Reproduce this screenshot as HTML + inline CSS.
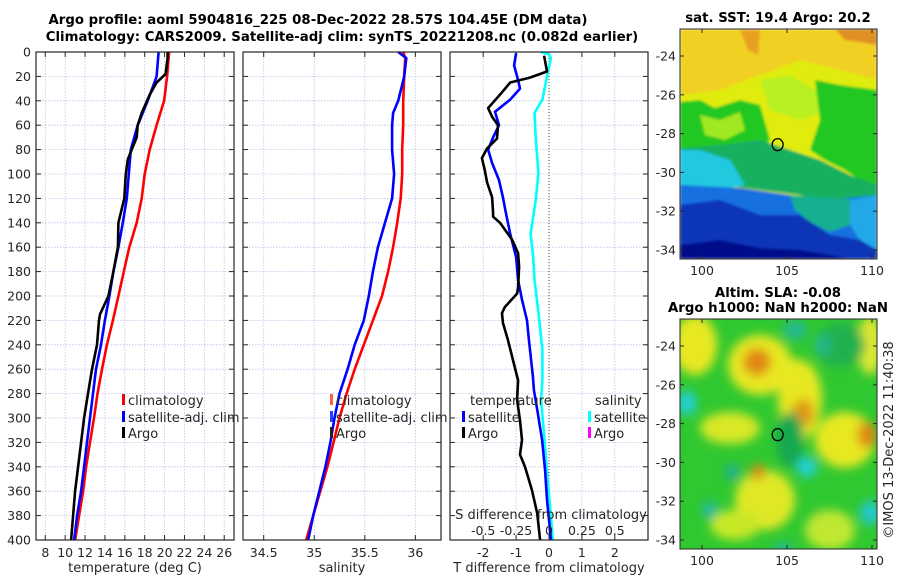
<!DOCTYPE html>
<html><head><meta charset="utf-8">
<style>
html,body{margin:0;padding:0;background:#fff;}
svg{display:block;font-family:"DejaVu Sans","Liberation Sans",sans-serif;}
.tk{font-size:12.5px;fill:#262626;}
.ttl{font-size:13.3px;font-weight:bold;fill:#000;}
.lab{font-size:13px;fill:#262626;}
</style></head>
<body>
<svg id="fig" width="900" height="580" viewBox="0 0 900 580">
<defs>
<filter id="bl" x="-20%" y="-20%" width="140%" height="140%"><feGaussianBlur stdDeviation="5"/></filter>
<filter id="bl2" x="-20%" y="-20%" width="140%" height="140%"><feGaussianBlur stdDeviation="1.2"/></filter>
<clipPath id="c1"><rect x="680" y="29" width="197" height="230"/></clipPath>
<clipPath id="c2"><rect x="680" y="319" width="197" height="230"/></clipPath>
</defs>
<text class="ttl" x="318" y="24" text-anchor="middle">Argo profile: aoml 5904816_225 08-Dec-2022 28.57S 104.45E (DM data)</text>
<text class="ttl" x="342" y="41" text-anchor="middle">Climatology: CARS2009. Satellite-adj clim: synTS_20221208.nc (0.082d earlier)</text>

<g id="panel1"></g>
<g id="panel2"></g>
<g id="panel3"></g>

<g>
<text class="ttl" x="778" y="22" text-anchor="middle">sat. SST: 19.4 Argo: 20.2</text>
<g clip-path="url(#c1)" filter="url(#bl2)">
<rect x="680" y="29" width="197" height="230" fill="#e0ec10"/>
<polygon fill="#f0d020" points="680,29 877,29 877,80 840,70 800,60 760,75 720,90 680,95"/>
<polygon fill="#e8a020" points="740,30 760,30 758,55 748,50"/>
<polygon fill="#e09020" points="835,29 877,29 877,45 860,42 845,40"/>
<polygon fill="#b8f020" points="760,80 790,75 815,90 830,110 800,120 770,110"/>
<polygon fill="#20c820" points="680,102 700,100 715,108 740,100 760,105 770,140 760,150 720,150 680,150"/>
<polygon fill="#20c820" points="815,80 840,85 877,90 877,185 860,180 845,170 825,160 810,150 820,120"/>
<polygon fill="#a0e820" points="700,115 720,120 740,112 745,130 725,140 705,135"/>
<polygon fill="#18b060" points="680,148 720,145 760,140 790,150 820,160 850,175 877,185 877,200 840,205 800,195 760,190 720,185 680,185"/>
<polygon fill="#20c8e0" points="680,150 700,150 730,160 745,185 720,190 680,190"/>
<polygon fill="#1870e0" points="680,185 740,188 790,195 830,200 877,195 877,259 680,259"/>
<polygon fill="#18b090" points="790,195 830,198 860,200 850,225 830,232 810,222 795,210"/>
<polygon fill="#20a8e8" points="850,200 877,195 877,250 860,240 850,225"/>
<polygon fill="#0a34b8" points="680,205 720,200 760,215 800,215 830,235 860,240 877,250 877,259 680,259"/>
<polygon fill="#000a8a" points="680,245 720,240 760,248 800,250 830,255 850,259 680,259"/>
</g>
<rect x="680" y="29" width="197" height="230" fill="none" stroke="#262626" stroke-width="1"/>
<g id="m1ax"></g>
</g>

<g>
<text class="ttl" x="778" y="297" text-anchor="middle">Altim. SLA: -0.08</text>
<text class="ttl" x="778" y="312" text-anchor="middle">Argo h1000: NaN h2000: NaN</text>
<g clip-path="url(#c2)">
<rect x="680" y="319" width="197" height="230" fill="#30c830"/>
<g filter="url(#bl)">
<ellipse cx="695" cy="345" rx="22" ry="30" fill="#e8e820"/>
<ellipse cx="760" cy="365" rx="32" ry="30" fill="#e8e820"/>
<ellipse cx="800" cy="400" rx="22" ry="40" fill="#e8e820"/>
<ellipse cx="790" cy="370" rx="15" ry="12" fill="#e8e820"/>
<ellipse cx="845" cy="440" rx="30" ry="28" fill="#e8e820"/>
<ellipse cx="870" cy="345" rx="12" ry="30" fill="#e0e830"/>
<ellipse cx="730" cy="428" rx="30" ry="16" fill="#d8e828"/>
<ellipse cx="765" cy="500" rx="30" ry="30" fill="#e0e828"/>
<ellipse cx="735" cy="525" rx="25" ry="15" fill="#c8e828"/>
<ellipse cx="830" cy="530" rx="25" ry="20" fill="#c0e830"/>
<ellipse cx="757" cy="362" rx="14" ry="14" fill="#e08818"/>
<ellipse cx="803" cy="413" rx="11" ry="14" fill="#e09818"/>
<ellipse cx="867" cy="435" rx="10" ry="13" fill="#e08818"/>
<ellipse cx="758" cy="472" rx="7" ry="8" fill="#e08818"/>
<ellipse cx="790" cy="440" rx="14" ry="28" fill="#18a850"/>
<ellipse cx="840" cy="345" rx="25" ry="22" fill="#20b050"/>
<ellipse cx="687" cy="403" rx="9" ry="12" fill="#20d0e0"/>
<ellipse cx="807" cy="467" rx="10" ry="10" fill="#20d0d8"/>
<ellipse cx="710" cy="510" rx="8" ry="9" fill="#20b8a0"/>
<ellipse cx="870" cy="513" rx="10" ry="12" fill="#20c8d0"/>
<ellipse cx="795" cy="330" rx="12" ry="10" fill="#20b890"/>
<ellipse cx="822" cy="345" rx="8" ry="10" fill="#20b890"/>
<ellipse cx="732" cy="472" rx="8" ry="8" fill="#20b090"/>
<ellipse cx="783" cy="549" rx="10" ry="6" fill="#20b8a0"/>
</g>
</g>
<rect x="680" y="319" width="197" height="230" fill="none" stroke="#262626" stroke-width="1"/>
<g id="m2ax"></g>
</g>
<text class="lab" transform="translate(893,440) rotate(-90)" text-anchor="middle">©IMOS 13-Dec-2022 11:40:38</text>
</svg>
<script>
const depthT = [0,20,40,60,80,100,120,140,160,180,200,220,240,260,280,300,320,340,360,380,400];
const climT  = [20.45,20.25,19.95,19.2,18.5,18.0,17.7,17.2,16.45,15.9,15.35,14.8,14.2,13.7,13.25,12.9,12.5,12.1,11.8,11.4,11.0];
const satT   = [19.4,19.2,18.3,17.3,16.6,16.4,16.2,15.8,15.35,14.85,14.45,14.0,13.6,13.1,12.8,12.5,12.2,11.9,11.6,11.2,10.9];
const argoDepthT = [0,5,18,25,35,50,60,70,88,100,120,140,160,180,200,215,220,240,260,280,300,320,340,360,380,400];
const argoT  = [20.3,20.3,20.1,19.2,18.5,17.7,17.3,17.2,16.3,16.1,15.95,15.35,15.3,14.85,14.35,13.5,13.4,13.2,12.7,12.3,11.9,11.6,11.3,11.0,10.8,10.6];
const depthS = [0,5,20,40,50,60,80,100,120,140,160,180,200,220,240,260,280,300,320,340,360,380,400];
const climS  = [35.88,35.9,35.89,35.88,35.88,35.88,35.87,35.87,35.855,35.82,35.78,35.73,35.67,35.58,35.49,35.40,35.32,35.25,35.19,35.13,35.06,34.99,34.92];
const satS   = [35.83,35.91,35.89,35.83,35.78,35.77,35.77,35.79,35.77,35.70,35.63,35.58,35.54,35.49,35.40,35.33,35.25,35.20,35.16,35.11,35.05,34.99,34.94];
const argoDiffDepth = [3,16,21,25,33,46,53,60,71,79,87,97,107,119,132,135,140,154,165,176,193,198,209,214,222,236,250,266,269,285,302,318,330,340,359,378,400];
const argoDiffT = [-0.15,-0.06,-0.58,-1.18,-1.43,-1.85,-1.73,-1.55,-1.58,-1.88,-2.04,-1.95,-1.88,-1.73,-1.70,-1.70,-1.49,-1.12,-0.94,-0.91,-0.94,-0.97,-1.34,-1.43,-1.40,-1.25,-1.12,-0.97,-0.94,-0.97,-0.88,-0.82,-0.88,-0.73,-0.52,-0.36,-0.27];
const satDiffDepth = [1,11,23,30,39,49,60,70,80,91,105,119,132,149,168,187,203,220,236,266,277,293,318,343,367,400];
const satDiffT = [-1.0,-1.06,-0.94,-0.88,-1.18,-1.64,-1.52,-1.70,-1.85,-1.73,-1.52,-1.40,-1.31,-1.18,-1.0,-0.94,-0.82,-0.67,-0.61,-0.49,-0.46,-0.36,-0.21,-0.12,-0.06,0.06];
const salDiffDepth = [0,2,5,20,39,50,72,99,121,149,168,187,214,244,269,285,310,351,400];
const satDiffS = [-0.06,0.0,0.015,-0.015,-0.05,-0.11,-0.10,-0.08,-0.10,-0.14,-0.12,-0.11,-0.08,-0.05,-0.05,-0.06,-0.04,-0.01,0.03];
const depthTicks = [0,20,40,60,80,100,120,140,160,180,200,220,240,260,280,300,320,340,360,380,400];
const tTicks = [8,10,12,14,16,18,20,22,24,26];
const sTicks = [34.5,35,35.5,36];
const dtTicks = [-2,-1,0,1,2];
const dsTicks = [-0.5,-0.25,0,0.25,0.5];
const dsTickLabels = ["-0.5","-0.25","0","0.25","0.5"];
const latTicks = [-24,-26,-28,-30,-32,-34];
const lonTicks = [100,105,110];
const argoLon = 104.45, argoLat = -28.57;

const yTop=52, yBot=540;
const yD = d => yTop + d*(yBot-yTop)/400;
const xT = t => 45.3 + (t-8)*9.94;
const xS = s => 263.7 + (s-34.5)*101.1;
const xDT = v => 549 + v*32.9;
const xDS = v => 549 + v*131.6;
const mLon = lon => 702 + (lon-100)*17;
const m1Lat = lat => 56 + (-24-lat)*19.4;
const m2Lat = lat => 346 + (-24-lat)*19.4;
const NS='http://www.w3.org/2000/svg';
function mk(tag, attrs, parent){const e=document.createElementNS(NS,tag);for(const k in attrs)e.setAttribute(k,attrs[k]);parent.appendChild(e);return e;}
function txt(s, attrs, parent){const e=mk('text',attrs,parent);e.textContent=s;return e;}

function frame(g,x0,x1,xticks,xf,showY){
  depthTicks.forEach(d=>{
    const l=mk('line',{x1:x0,x2:x1,y1:yD(d),y2:yD(d),stroke:'#b8c4e8','stroke-width':0.8,'stroke-dasharray':'1.5,1.5'},g);
    
    
    mk('line',{x1:x0,x2:x0+5,y1:yD(d),y2:yD(d),stroke:'#262626'},g);
    mk('line',{x1:x1-5,x2:x1,y1:yD(d),y2:yD(d),stroke:'#262626'},g);
    if(showY){const t=txt(String(d),{x:x0-5,y:yD(d)+4.5,'text-anchor':'end',class:'tk'},g);
      
      }
  });
  xticks.forEach(v=>{
    const x=xf(v);
    const l=mk('line',{x1:x,x2:x,y1:yTop,y2:yBot,stroke:'#b8c4e8','stroke-width':0.8,'stroke-dasharray':'1.5,1.5'},g);
    
    
    mk('line',{x1:x,x2:x,y1:yTop,y2:yTop+5,stroke:'#262626'},g);
    mk('line',{x1:x,x2:x,y1:yBot-5,y2:yBot,stroke:'#262626'},g);
  });
}
function box(g,x0,x1){mk('rect',{x:x0,y:yTop,width:x1-x0,height:yBot-yTop,fill:'none',stroke:'#262626','stroke-width':1.2},g);}
function line(g,xs,ds,xf,color,name){
  const pts=xs.map((v,i)=>xf(v).toFixed(1)+','+yD(ds[i]).toFixed(1)).join(' ');
  const p=mk('polyline',{points:pts,fill:'none',stroke:color,'stroke-width':2.6,'stroke-linejoin':'round'},g);
  
  
}
function legendItem(g,x,y,color,label,name){
  mk('rect',{x:x,y:y-11,width:3,height:11,fill:color},g);
  const t=txt(label,{x:x+6,y:y,class:'lab'},g);
  
  
}
function label(g,s,x,y,anchor,cls,name){
  const t=txt(s,{x:x,y:y,'text-anchor':anchor,class:cls},g);
  
  
}

const g1=document.getElementById('panel1');
frame(g1,36,234,tTicks,xT,true);
line(g1,climT,depthT,xT,'#ff0000','climatology-temperature-line');
line(g1,satT,depthT,xT,'#0000ff','satellite-temperature-line');
line(g1,argoT,argoDepthT,xT,'#000000','argo-temperature-line');
box(g1,36,234);
tTicks.forEach(v=>label(g1,String(v),xT(v),557,'middle','tk','temperature-tick-label'));
label(g1,'temperature (deg C)',135,572,'middle','lab','temperature-axis-title');
legendItem(g1,122,405,'#ff0000','climatology','legend-climatology');
legendItem(g1,122,422,'#0000ff','satellite-adj. clim','legend-satellite-adj');
legendItem(g1,122,438,'#000000','Argo','legend-argo');

const g2=document.getElementById('panel2');
frame(g2,243,441,sTicks,xS,false);
line(g2,climS,depthS,xS,'#ff0000','climatology-salinity-line');
line(g2,satS,depthS,xS,'#0000ff','satellite-salinity-line');
box(g2,243,441);
sTicks.forEach(v=>label(g2,String(v),xS(v),557,'middle','tk','salinity-tick-label'));
label(g2,'salinity',342,572,'middle','lab','salinity-axis-title');
legendItem(g2,330,405,'#ff6040','climatology','legend-climatology-s');
legendItem(g2,330,422,'#2040ff','satellite-adj. clim','legend-satellite-adj-s');
legendItem(g2,330,438,'#202020','Argo','legend-argo-s');

const g3=document.getElementById('panel3');
frame(g3,450,648,dtTicks,xDT,false);
mk('line',{x1:xDT(0),x2:xDT(0),y1:yTop,y2:yBot,stroke:'#4a4a20','stroke-width':1,'stroke-dasharray':'1,2'},g3);
line(g3,satDiffS,salDiffDepth,xDS,'#00ffff','satellite-salinity-diff-line');
line(g3,satDiffT,satDiffDepth,xDT,'#0000ff','satellite-temperature-diff-line');
line(g3,argoDiffT,argoDiffDepth,xDT,'#000000','argo-temperature-diff-line');
box(g3,450,648);
dtTicks.forEach(v=>label(g3,String(v),xDT(v),557,'middle','tk','t-diff-tick-label'));
label(g3,'T difference from climatology',549,572,'middle','lab','t-diff-axis-title');
label(g3,'S difference from climatology',551,519,'middle','lab','s-diff-axis-title');
dsTicks.forEach((v,i)=>label(g3,dsTickLabels[i],xDS(v),535,'middle','tk','s-diff-tick-label'));
label(g3,'temperature',470,405,'start','lab','legend-temperature-heading');
label(g3,'salinity',595,405,'start','lab','legend-salinity-heading');
legendItem(g3,462,422,'#0000ff','satellite','legend-t-satellite');
legendItem(g3,462,438,'#000000','Argo','legend-t-argo');
legendItem(g3,588,422,'#00ffff','satellite','legend-s-satellite');
legendItem(g3,588,438,'#ff00ff','Argo','legend-s-argo');

function mapAxes(gid,latf,y0,y1,labY,name){
  const g=document.getElementById(gid);
  latTicks.forEach(v=>{const y=latf(v);
    mk('line',{x1:680,x2:684,y1:y,y2:y,stroke:'#262626'},g);
    mk('line',{x1:873,x2:877,y1:y,y2:y,stroke:'#262626'},g);
    label(g,String(v),676,y+4.5,'end','tk',name+'-lat-label');});
  lonTicks.forEach(v=>{const x=mLon(v);
    mk('line',{x1:x,x2:x,y1:y0,y2:y0+4,stroke:'#262626'},g);
    mk('line',{x1:x,x2:x,y1:y1-4,y2:y1,stroke:'#262626'},g);
    label(g,String(v),x,labY,'middle','tk',name+'-lon-label');});
  const c=mk('ellipse',{cx:mLon(argoLon),cy:latf(argoLat),rx:5.5,ry:6,fill:'none',stroke:'#000','stroke-width':1.3},g);
  
  
}
mapAxes('m1ax',m1Lat,29,259,275,'sst-map');
mapAxes('m2ax',m2Lat,319,549,565,'sla-map');
</script>
</body></html>
